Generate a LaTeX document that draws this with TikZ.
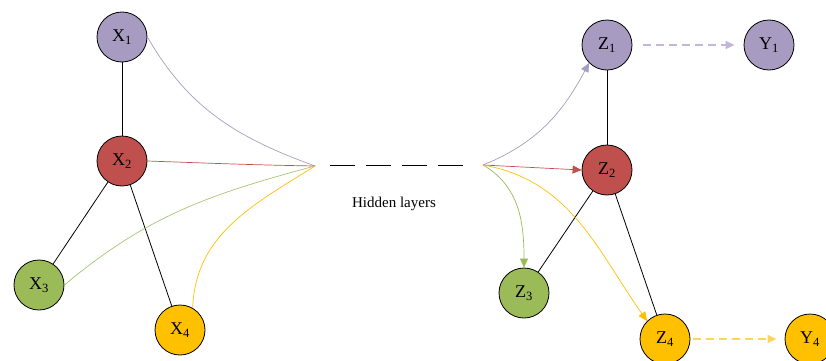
\documentclass[tikz,border=0pt]{standalone}
\usepackage{fontspec}
\setmainfont{Liberation Serif}
\usetikzlibrary{arrows.meta}

\definecolor{lilac}{RGB}{168,155,193}
\definecolor{brick}{RGB}{192,80,77}
\definecolor{olive}{RGB}{155,187,89}
\definecolor{amber}{RGB}{255,192,0}
\definecolor{palelilac}{RGB}{196,182,216}
\definecolor{paleamber}{RGB}{255,212,92}
\definecolor{paleolive}{RGB}{165,198,115}

\begin{document}
\begin{tikzpicture}[x = 1pt, y = 1pt,
		unit/.style = {draw, circle, line width = 0.8pt, minimum size = 50pt, inner sep = 0pt, font = \fontsize{18}{18}\selectfont},
		link/.style = {line width = 0.8pt},
		flow/.style = {line width = 0.7pt},
		tip/.style = {-{Triangle[length = 9pt, width = 8pt]}},
		pass/.style = {tip, line width = 1.6pt, dash pattern = on 8pt off 5pt}]
	\useasboundingbox (0, 0) rectangle (826, 360);

	\coordinate (hl) at (315, 194);
	\coordinate (hr) at (483, 195);
	\coordinate (d1) at (330, 195);
	\coordinate (d2) at (464, 195);

	\node [unit, fill = lilac] (x1) at (122, 323) {X\textsubscript{1}};
	\node [unit, fill = brick] (x2) at (122, 199) {X\textsubscript{2}};
	\node [unit, fill = olive] (x3) at (39, 75) {X\textsubscript{3}};
	\node [unit, fill = amber] (x4) at (180, 30) {X\textsubscript{4}};

	\node [unit, fill = lilac] (z1) at (607, 315) {Z\textsubscript{1}};
	\node [unit, fill = brick] (z2) at (607, 190) {Z\textsubscript{2}};
	\node [unit, fill = olive] (z3) at (524, 67) {Z\textsubscript{3}};
	\node [unit, fill = amber] (z4) at (665, 21) {Z\textsubscript{4}};

	\node [unit, fill = lilac] (y1) at (769, 315) {Y\textsubscript{1}};
	\node [unit, fill = amber] (y4) at (810, 21) {Y\textsubscript{4}};

	\node [font = \fontsize{15}{15}\selectfont] (hid) at (394, 156) {Hidden layers};

	\draw [link] (x1) -- (x2);
	\draw [link] (x2) -- (x3);
	\draw [link] (x2) -- (x4);
	\draw [link] (z1) -- (z2);
	\draw [link] (z2) -- (z3);
	\draw [link] (z2) -- (z4);

	\draw [line width = 1pt, dash pattern = on 25pt off 11pt] (d1) -- (d2);

	\draw [flow, lilac] (x1.east) to [out = -60, in = 160] (hl);
	\draw [flow, brick] (x2.east) to [out = -2, in = 179] (hl);
	\draw [flow, paleolive] (x3.east) to [out = 40, in = 195] (hl);
	\draw [flow, amber] (x4.60) to [out = 88, in = 212] (hl);

	\draw [flow, tip, lilac] (hr) to [out = 22, in = 242] (z1.225);
	\draw [flow, tip, brick] (hr) -- (z2.west);
	\draw [flow, tip, olive] (hr) to [out = -30, in = 90] (z3.north);
	\draw [flow, tip, amber] (hr) to [out = -10, in = 125] (z4.135);

	\draw [pass, palelilac, shorten <= 11pt, shorten >= 9pt] (z1) -- (y1);
	\draw [pass, paleamber, shorten <= 3pt, shorten >= 8pt] (z4) -- (y4);
\end{tikzpicture}
\end{document}
